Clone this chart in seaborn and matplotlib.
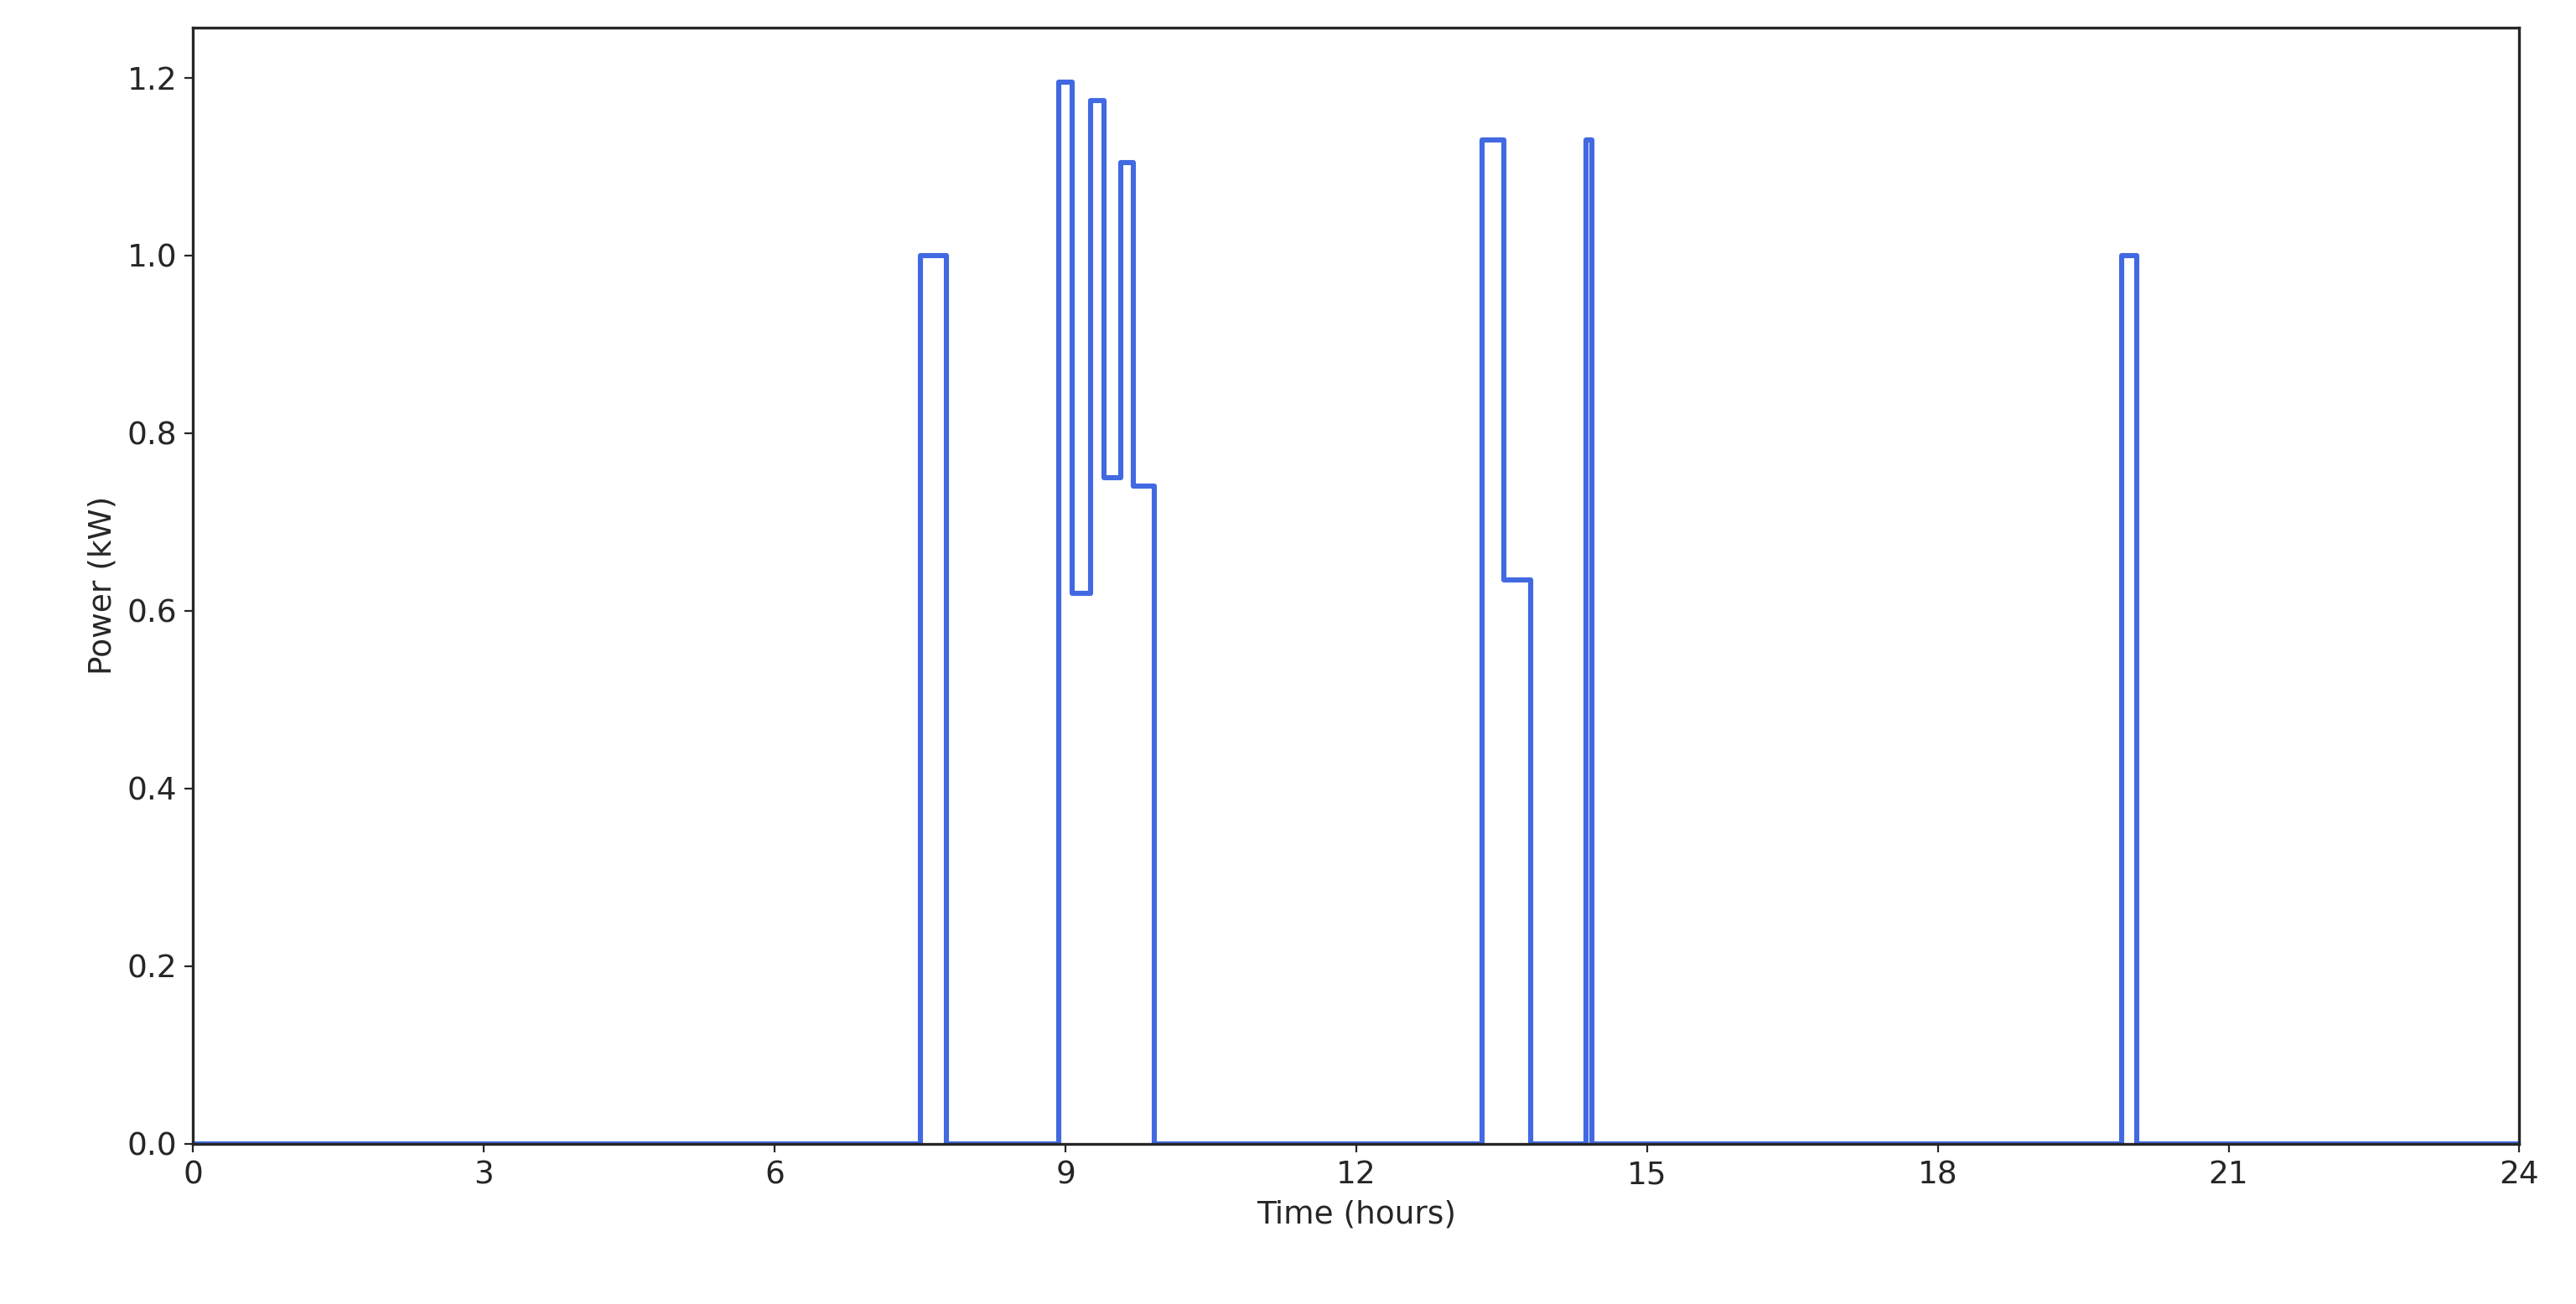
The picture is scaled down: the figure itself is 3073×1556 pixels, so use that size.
import pandas as pd
import matplotlib
matplotlib.use("Agg")
import matplotlib.pyplot as plt
import seaborn as sns

# Step profile: power level holds from each time until the next one
step_hours = [0.0, 7.5, 7.77, 8.93, 9.07, 9.26, 9.4, 9.57, 9.7, 9.92,
              13.3, 13.52, 13.8, 14.37, 14.43, 19.9, 20.05, 24.0]
step_power = [0.0, 1.0, 0.0, 1.195, 0.62, 1.175, 0.75, 1.105, 0.74, 0.0,
              1.13, 0.635, 0.0, 1.13, 0.0, 1.0, 0.0, 0.0]

df = pd.DataFrame({'Time (hours)': step_hours, 'Power (kW)': step_power})

sns.set_style("ticks")
plt.rcParams['font.family'] = ['DejaVu Sans']
fig, ax = plt.subplots(figsize=(15.365, 7.78), dpi=200)
sns.lineplot(data=df, x='Time (hours)', y='Power (kW)', ax=ax,
             drawstyle='steps-post', color='royalblue', linewidth=2.2)

ax.set_xlim(0, 24)
ax.set_ylim(0, 1.257)
ax.set_xticks(range(0, 25, 3))
ax.tick_params(labelsize=13.5)
ax.set_xlabel('Time (hours)', fontsize=13.5)
ax.set_ylabel('Power (kW)', fontsize=13.5)
for s in ax.spines.values():
    s.set_linewidth(1.2)
fig.subplots_adjust(left=0.075, right=0.978, top=0.979, bottom=0.123)
fig.savefig('out.png')
